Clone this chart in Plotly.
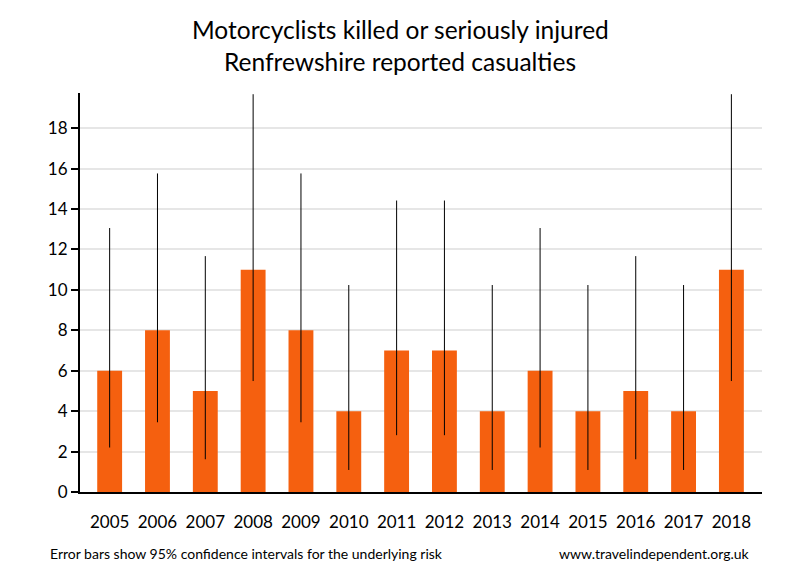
import plotly.graph_objects as go

years = ["2005", "2006", "2007", "2008", "2009", "2010", "2011", "2012", "2013", "2014", "2015", "2016", "2017", "2018"]
casualties = [6, 8, 5, 11, 8, 4, 7, 7, 4, 6, 4, 5, 4, 11]
ci_lower = [2.20, 3.45, 1.62, 5.49, 3.45, 1.09, 2.81, 2.81, 1.09, 2.20, 1.09, 1.62, 1.09, 5.49]
ci_upper = [13.06, 15.76, 11.67, 19.68, 15.76, 10.24, 14.42, 14.42, 10.24, 13.06, 10.24, 11.67, 10.24, 19.68]
y_ticks = [0, 2, 4, 6, 8, 10, 12, 14, 16, 18]

err_plus = [u - v for u, v in zip(ci_upper, casualties)]
err_minus = [v - l for v, l in zip(casualties, ci_lower)]

FONT = "Lato"
# page has an 8px body margin: figure drawn at (8, 8)
W, H = 792, 572
OFF = 8
PL, PR, PT, PB = 80 - OFF, 762 - OFF, 93 - OFF, 492 - OFF


def px_to_paper(xp, yp):
    """page pixel -> paper coords"""
    xf, yf = xp - OFF, yp - OFF
    return (xf - PL) / (PR - PL), (PB - yf) / (PB - PT)


fig = go.Figure(go.Bar(
    x=years, y=casualties,
    marker=dict(color="#F5600F", line=dict(width=0)),
    error_y=dict(type="data", symmetric=False, array=err_plus, arrayminus=err_minus,
                 color="black", thickness=1, width=0),
    width=0.52,
))

annots = []
for text, xp, yp, anchor, size in [
    ("Motorcyclists killed or seriously injured", 400, 29, "center", 24.5),
    ("Renfrewshire reported casualties", 400, 61, "center", 24.5),
    ("Error bars show 95% confidence intervals for the underlying risk", 48, 553, "left", 14),
    ("www.travelindependent.org.uk", 752, 553, "right", 14),
]:
    x, y = px_to_paper(xp, yp)
    annots.append(dict(text=text, x=x, y=y, xref="paper", yref="paper",
                       xanchor=anchor, yanchor="middle", showarrow=False,
                       font=dict(family=FONT, size=size, color="black")))

fig.update_layout(
    width=W, height=H,
    paper_bgcolor="white", plot_bgcolor="white",
    margin=dict(l=PL, r=W - PR, t=PT, b=H - PB, pad=0),
    showlegend=False,
    font=dict(family=FONT, color="black"),
    xaxis=dict(
        type="category", range=[-0.62, 13.64],
        showline=True, linecolor="black", linewidth=2,
        ticks="", showgrid=False,
        tickfont=dict(family=FONT, size=17, color="black"),
        ticklabelstandoff=14,
    ),
    yaxis=dict(
        range=[0, 19.74], tickvals=y_ticks,
        showline=True, linecolor="black", linewidth=2,
        ticks="outside", ticklen=7, tickwidth=1.5, tickcolor="black",
        showgrid=True, gridcolor="#e6e6e6", gridwidth=2,
        zeroline=False,
        tickfont=dict(family=FONT, size=17, color="black"),
    ),
    annotations=annots,
)

fig.write_html("out.html")
